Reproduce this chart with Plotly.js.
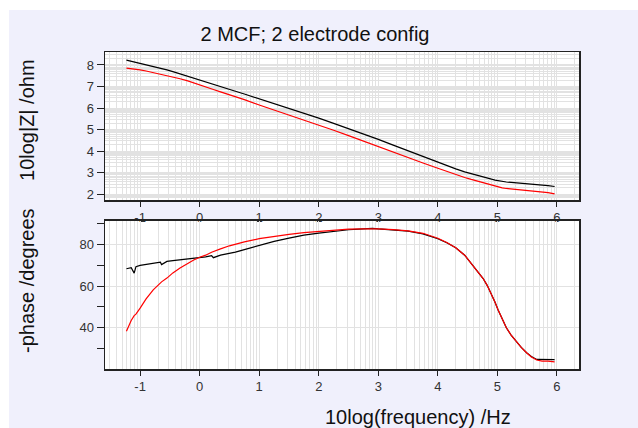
<!DOCTYPE html>
<html>
<head>
<meta charset="utf-8">
<script src="https://cdn.plot.ly/plotly-3.0.1.min.js"></script>
<style>
html,body{margin:0;padding:0;background:#ffffff;}
#chart{position:absolute;left:9px;top:10px;width:629px;height:418px;}
</style>
</head>
<body>
<div id="chart"></div>
<script>
// log10(frequency / Hz)
const freq = [-1.23,-1.15,-1.10,-1.07,-1.0,-0.9,-0.78,-0.66,-0.64,-0.55,-0.45,-0.33,-0.2,-0.1,0,0.1,0.2,0.23,0.35,0.5,0.6,0.75,1.0,1.25,1.5,1.75,2.0,2.25,2.5,2.75,2.9,3.0,3.25,3.5,3.75,4.0,4.15,4.3,4.45,4.56,4.66,4.76,4.83,4.9,4.96,5.01,5.08,5.15,5.23,5.32,5.4,5.49,5.57,5.66,5.75,5.85,5.96];

// 10log|Z| /ohm
const zBlack = [8.22,8.17,8.14,8.12,8.08,8.01,7.93,7.85,7.84,7.77,7.69,7.59,7.48,7.39,7.30,7.22,7.13,7.10,7.00,6.87,6.78,6.65,6.43,6.21,5.98,5.76,5.53,5.29,5.05,4.80,4.66,4.55,4.28,4.01,3.74,3.47,3.32,3.18,3.04,2.95,2.87,2.80,2.75,2.70,2.66,2.63,2.60,2.57,2.55,2.53,2.52,2.50,2.48,2.46,2.43,2.40,2.36];
const zRed = [7.85,7.83,7.81,7.80,7.77,7.72,7.65,7.58,7.57,7.52,7.45,7.36,7.26,7.16,7.07,6.98,6.89,6.86,6.75,6.62,6.53,6.39,6.14,5.91,5.68,5.45,5.22,4.97,4.72,4.46,4.31,4.21,3.95,3.70,3.45,3.21,3.06,2.92,2.78,2.69,2.61,2.53,2.48,2.42,2.37,2.34,2.30,2.27,2.25,2.23,2.22,2.20,2.18,2.15,2.12,2.08,2.02];

// -phase /degrees
const phBlack = [68.3,68.8,66.2,69.3,69.9,70.4,70.9,71.4,70.3,71.8,72.2,72.6,72.9,73.2,73.4,74.0,74.6,73.6,74.8,75.6,76.3,77.5,79.5,81.4,83.0,84.4,85.4,86.3,87.0,87.4,87.7,87.4,87.0,86.3,85.0,82.7,80.8,78.4,74.8,71.0,67.5,63.6,60.2,56.2,52.2,48.6,44.0,40.0,36.5,33.3,30.6,28.0,26.2,24.8,24.7,24.7,24.7];
const phRed = [38.3,43.5,45.8,46.5,49.4,53.8,58.2,61.5,62.0,63.8,66.3,68.6,70.9,72.5,73.8,74.8,76.2,76.6,77.8,79.3,80.2,81.2,82.7,83.8,84.8,85.6,86.2,86.8,87.3,87.4,87.5,87.4,87.1,86.5,85.3,82.9,80.9,78.4,74.8,71.0,67.5,63.6,60.2,56.2,52.2,48.6,44.0,40.0,36.5,33.3,30.6,28.0,26.0,24.5,24.0,24.0,23.6];

const xTickVals = [-1,0,1,2,3,4,5,6];
const xTickText = ['-1','0','1','2','3','4','5','6'];
const zTickVals = [2,3,4,5,6,7,8];
const phTickVals = [40,60,80];

function logGrid(n0, n1) {
  const v = [];
  for (let n = n0; n <= n1; n++) {
    for (let k = 2; k <= 9; k++) v.push(n + Math.log10(k));
  }
  return v;
}

const FONT = 'Liberation Sans, Arial, sans-serif';
const gridC = '#e2e2e2';
const lineC = '#222222';
const tickFont = {family: FONT, size: 13, color: '#333333'};
const xr = [-1.59, 6.37];

const traces = [
  {x: freq, y: zBlack, xaxis: 'x', yaxis: 'y', mode: 'lines', line: {color: '#000000', width: 1.2}, hoverinfo: 'skip'},
  {x: freq, y: zRed, xaxis: 'x', yaxis: 'y', mode: 'lines', line: {color: '#ff0000', width: 1.2}, hoverinfo: 'skip'},
  {x: freq, y: phBlack, xaxis: 'x2', yaxis: 'y2', mode: 'lines', line: {color: '#000000', width: 1.2}, hoverinfo: 'skip'},
  {x: freq, y: phRed, xaxis: 'x2', yaxis: 'y2', mode: 'lines', line: {color: '#ff0000', width: 1.2}, hoverinfo: 'skip'}
];

function xAxis(anchor) {
  return {
    anchor: anchor, range: xr, domain: [0, 1],
    tickmode: 'array', tickvals: xTickVals, ticktext: xTickText,
    ticks: 'outside', ticklen: 5, tickwidth: 1, tickcolor: lineC,
    showline: true, linecolor: lineC, linewidth: 1.5, mirror: true,
    showgrid: true, gridcolor: gridC, gridwidth: 1,
    zeroline: false, tickfont: tickFont,
    minor: {tickmode: 'array', tickvals: logGrid(-2, 6), ticks: '', showgrid: true, gridcolor: gridC, gridwidth: 1}
  };
}

const layout = {
  width: 629, height: 418,
  paper_bgcolor: '#f0f0fc', plot_bgcolor: '#ffffff',
  margin: {l: 96, r: 59, t: 42, b: 59},
  showlegend: false,
  title: {
    text: '2 MCF; 2 electrode config',
    font: {family: FONT, size: 20, color: '#111111'},
    xref: 'container', yref: 'container', x: 306/629, xanchor: 'center', y: 1 - 24/418, yanchor: 'middle'
  },
  xaxis: xAxis('y'),
  xaxis2: xAxis('y2'),
  yaxis: {
    domain: [0.5331, 1], range: [1.735, 8.6], anchor: 'x',
    tickmode: 'array', tickvals: zTickVals,
    ticks: 'outside', ticklen: 7, tickwidth: 1, tickcolor: lineC,
    showline: true, linecolor: lineC, linewidth: 1.5, mirror: true,
    showgrid: true, gridcolor: gridC, gridwidth: 1, zeroline: false, tickfont: tickFont,
    minor: {tickmode: 'array', tickvals: logGrid(1, 8), ticks: '', showgrid: true, gridcolor: gridC, gridwidth: 1}
  },
  yaxis2: {
    domain: [0, 0.4669], range: [20.2, 91.2], anchor: 'x2',
    tickmode: 'array', tickvals: phTickVals,
    ticks: 'outside', ticklen: 7, tickwidth: 1, tickcolor: lineC,
    showline: true, linecolor: lineC, linewidth: 1.5, mirror: true,
    showgrid: true, gridcolor: gridC, gridwidth: 1, zeroline: false, tickfont: tickFont,
    minor: {dtick: 10, tick0: 0, ticks: 'outside', ticklen: 7, tickwidth: 1, tickcolor: lineC, showgrid: false}
  },
  annotations: [
    {text: '10log|Z| /ohm', xref: 'paper', yref: 'paper', x: -0.1646, y: 0.7855, textangle: -90,
     showarrow: false, xanchor: 'center', yanchor: 'middle',
     font: {family: FONT, size: 20, color: '#111111'}},
    {text: '-phase /degrees', xref: 'paper', yref: 'paper', x: -0.1646, y: 0.2808, textangle: -90,
     showarrow: false, xanchor: 'center', yanchor: 'middle',
     font: {family: FONT, size: 20, color: '#111111'}},
    {text: '10log(frequency) /Hz', xref: 'paper', yref: 'paper', x: 0.6603, y: -0.1514,
     showarrow: false, xanchor: 'center', yanchor: 'middle',
     font: {family: FONT, size: 20, color: '#111111'}}
  ]
};

Plotly.newPlot('chart', traces, layout, {displayModeBar: false, staticPlot: true});
</script>
</body>
</html>
